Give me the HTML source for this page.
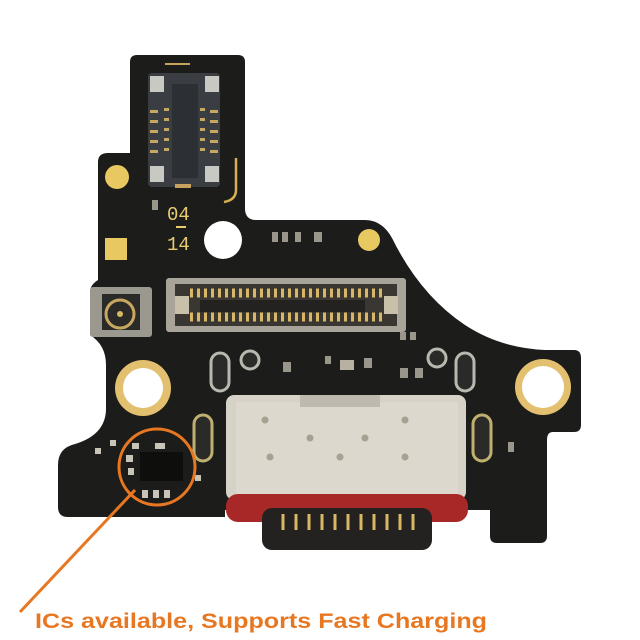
<!DOCTYPE html>
<html><head><meta charset="utf-8"><style>html,body{margin:0;padding:0;background:#fff}svg{display:block}</style></head>
<body>
<svg width="640" height="640" viewBox="0 0 640 640" xmlns="http://www.w3.org/2000/svg">
<rect width="640" height="640" fill="#fff"/>
<!-- PCB outline -->
<path d="M137,55 L238,55 Q245,55 245,62 L245,210 Q246,220 256,220 L365,220 Q382,220 392,238 Q420,295 465,325 Q500,348 545,350 L574,350 Q581,350 581,358 L581,425 Q581,432 574,432 L553,432 Q547,432 547,440 L547,536 Q547,543 540,543 L497,543 Q490,543 490,536 L490,510 L225,510 L225,517 L68,517 Q58,517 58,507 L58,465 Q58,448 75,444 Q105,435 106,410 L106,365 Q106,345 90,335 L90,292 Q90,285 98,280 L98,162 Q98,153 108,153 L130,153 L130,62 Q130,55 137,55 Z" fill="#1c1c1a"/>
<!-- gold trace accents -->
<path d="M236,158 L236,190 Q236,200 224,202" stroke="#d8b050" stroke-width="2.5" fill="none"/>
<path d="M165,64 H190" stroke="#c8a060" stroke-width="2"/>
<!-- top connector -->
<rect x="148" y="73" width="72" height="114" rx="4" fill="#3a3d42"/>
<rect x="150" y="76" width="14" height="16" fill="#c9c9c4"/><rect x="205" y="76" width="14" height="16" fill="#c9c9c4"/>
<rect x="150" y="166" width="14" height="16" fill="#c9c9c4"/><rect x="205" y="166" width="14" height="16" fill="#c9c9c4"/>
<rect x="172" y="84" width="26" height="94" fill="#2c2f33"/>
<g fill="#c8a860">
<rect x="150" y="110" width="8" height="3"/><rect x="150" y="120" width="8" height="3"/><rect x="150" y="130" width="8" height="3"/><rect x="150" y="140" width="8" height="3"/><rect x="150" y="150" width="8" height="3"/>
<rect x="210" y="110" width="8" height="3"/><rect x="210" y="120" width="8" height="3"/><rect x="210" y="130" width="8" height="3"/><rect x="210" y="140" width="8" height="3"/><rect x="210" y="150" width="8" height="3"/>
<rect x="164" y="108" width="5" height="3"/><rect x="164" y="118" width="5" height="3"/><rect x="164" y="128" width="5" height="3"/><rect x="164" y="138" width="5" height="3"/><rect x="164" y="148" width="5" height="3"/>
<rect x="200" y="108" width="5" height="3"/><rect x="200" y="118" width="5" height="3"/><rect x="200" y="128" width="5" height="3"/><rect x="200" y="138" width="5" height="3"/><rect x="200" y="148" width="5" height="3"/>
</g>
<rect x="175" y="184" width="16" height="4" fill="#c8a060"/>
<!-- labels 04 14 -->
<text x="167" y="220" font-family="Liberation Mono, monospace" font-size="19" fill="#e8cc70">04</text>
<rect x="176" y="226" width="10" height="2" fill="#e8cc70"/>
<text x="167" y="250" font-family="Liberation Mono, monospace" font-size="19" fill="#e8cc70">14</text>
<rect x="152" y="200" width="6" height="10" fill="#9a968c"/>
<!-- holes -->
<circle cx="223" cy="240" r="19" fill="#fff"/>
<circle cx="143" cy="388" r="28" fill="#e2c070"/><circle cx="143" cy="388" r="20" fill="#fff"/>
<circle cx="543" cy="387" r="28" fill="#e2c070"/><circle cx="543" cy="387" r="21" fill="#fff"/>
<!-- pads -->
<rect x="105" y="238" width="22" height="22" fill="#e8c860"/>
<circle cx="117" cy="177" r="12" fill="#e8c860"/>
<circle cx="369" cy="240" r="11" fill="#e8c860"/>
<g fill="#9a968c">
<rect x="272" y="232" width="6" height="10"/><rect x="282" y="232" width="6" height="10"/><rect x="295" y="232" width="6" height="10"/><rect x="314" y="232" width="8" height="10"/>
<rect x="283" y="362" width="8" height="10"/><rect x="325" y="356" width="6" height="8"/><rect x="340" y="360" width="14" height="10" fill="#b8b0a0"/><rect x="364" y="358" width="8" height="10"/><rect x="400" y="332" width="6" height="8"/><rect x="410" y="332" width="6" height="8"/>
<rect x="400" y="368" width="8" height="10"/><rect x="415" y="368" width="8" height="10"/>
<rect x="508" y="442" width="6" height="10"/>
</g>
<!-- slot rings -->
<g fill="#2a2a28" stroke="#b8b8b0" stroke-width="3">
<rect x="211" y="353" width="18" height="38" rx="9"/>
<rect x="456" y="353" width="18" height="38" rx="9"/>
<circle cx="250" cy="360" r="9"/>
<circle cx="437" cy="358" r="9"/>
</g>
<rect x="194" y="415" width="18" height="46" rx="9" fill="#2a2a28" stroke="#c0b070" stroke-width="3"/>
<rect x="473" y="415" width="18" height="46" rx="9" fill="#2a2a28" stroke="#c0b070" stroke-width="3"/>
<!-- antenna connector -->
<rect x="90" y="287" width="62" height="50" rx="3" fill="#9a988f"/>
<rect x="102" y="294" width="38" height="36" fill="#2a2a28"/>
<circle cx="120" cy="314" r="14" fill="none" stroke="#c8a860" stroke-width="3"/><circle cx="120" cy="314" r="3" fill="#d8b865"/>
<!-- board-to-board connector -->
<rect x="166" y="278" width="240" height="54" rx="3" fill="#a8a49a"/>
<rect x="175" y="284" width="222" height="42" fill="#3a3632"/>
<g stroke="#d8b865">
<path d="M190,293 H384 M190,317 H384" stroke-width="9" stroke-dasharray="3,4"/>
</g>
<rect x="200" y="300" width="165" height="12" fill="#242220"/>
<rect x="175" y="296" width="14" height="18" fill="#c8c0a8"/><rect x="384" y="296" width="14" height="18" fill="#c8c0a8"/>
<!-- USB-C -->
<rect x="226" y="395" width="240" height="105" rx="8" fill="#d6d2c8"/>
<rect x="236" y="402" width="222" height="92" fill="#dcd8ce"/>
<rect x="300" y="395" width="80" height="12" fill="#bdb9ae"/>
<g fill="#a8a090">
<circle cx="265" cy="420" r="3.5"/><circle cx="405" cy="420" r="3.5"/><circle cx="310" cy="438" r="3.5"/><circle cx="365" cy="438" r="3.5"/>
<circle cx="270" cy="457" r="3.5"/><circle cx="340" cy="457" r="3.5"/><circle cx="405" cy="457" r="3.5"/>
</g>
<rect x="226" y="494" width="242" height="28" rx="12" fill="#a82828"/>
<rect x="262" y="508" width="170" height="42" rx="10" fill="#242220"/>
<g stroke="#d8b865" stroke-width="3"><path d="M283,514 V530 M296,514 V530 M309,514 V530 M322,514 V530 M335,514 V530 M348,514 V530 M361,514 V530 M374,514 V530 M387,514 V530 M400,514 V530 M413,514 V530"/></g>
<!-- IC area -->
<rect x="140" y="452" width="43" height="29" fill="#0e0e0c"/>
<g fill="#c8c4b8"><rect x="126" y="455" width="7" height="7"/><rect x="128" y="468" width="6" height="7"/><rect x="132" y="443" width="7" height="6"/><rect x="155" y="443" width="10" height="6"/><rect x="142" y="490" width="6" height="8"/><rect x="153" y="490" width="6" height="8"/><rect x="164" y="490" width="6" height="8"/><rect x="95" y="448" width="6" height="6"/><rect x="110" y="440" width="6" height="6"/><rect x="195" y="475" width="6" height="6"/></g>
<!-- orange annotation -->
<circle cx="157" cy="467" r="38" fill="none" stroke="#e87722" stroke-width="3"/>
<line x1="135" y1="490" x2="20" y2="612" stroke="#e87722" stroke-width="3"/>
<text x="35" y="628" font-family="Liberation Sans, sans-serif" font-weight="bold" font-size="21" fill="#e87722" textLength="452" lengthAdjust="spacingAndGlyphs">ICs available, Supports Fast Charging</text>
</svg>
</body></html>
